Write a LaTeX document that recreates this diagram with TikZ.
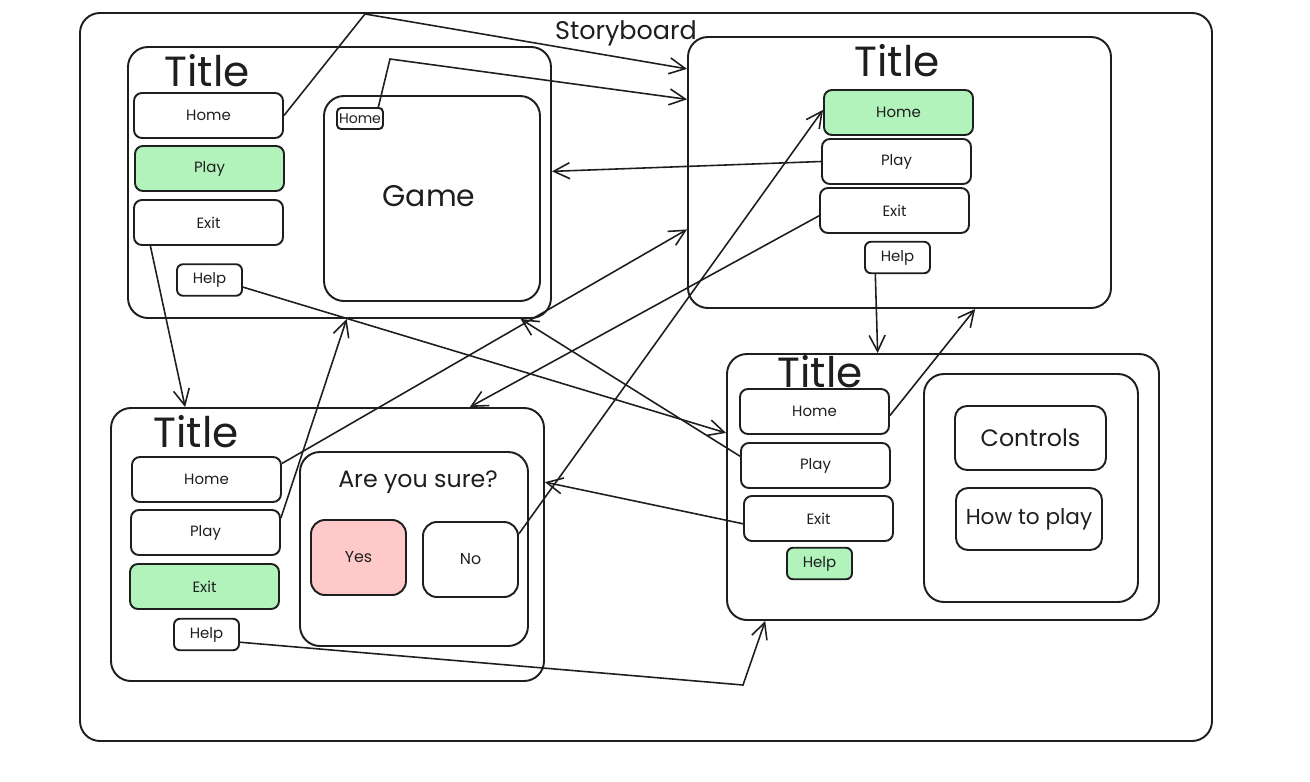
\documentclass[tikz,border=0pt]{standalone}
\usepackage{fontspec}
\setmainfont{Poppins}
\usetikzlibrary{arrows.meta}
\definecolor{inkgray}{HTML}{1E1E1E}
\definecolor{mintgreen}{HTML}{B2F2BB}
\definecolor{rosepink}{HTML}{FFC9C9}

\tikzset{
    screen/.style  = {draw=inkgray, line width=1.1pt, rounded corners=0.40cm, inner sep=0pt},
    panel/.style   = {draw=inkgray, line width=1.1pt, rounded corners=0.40cm, inner sep=0pt},
    button/.style  = {draw=inkgray, line width=1.1pt, rounded corners=0.16cm, inner sep=0pt,
                      minimum width=2.98cm, minimum height=0.90cm, font=\fontsize{8.5}{10}\selectfont},
    buttonon/.style= {button, fill=mintgreen},
    helpbtn/.style = {draw=inkgray, line width=1.1pt, rounded corners=0.12cm, inner sep=0pt,
                      minimum width=1.30cm, minimum height=0.63cm, font=\fontsize{8.5}{10}\selectfont},
    choice/.style  = {draw=inkgray, line width=1.1pt, rounded corners=0.28cm, inner sep=0pt,
                      minimum width=1.90cm, minimum height=1.50cm, font=\fontsize{9}{10}\selectfont},
    caption/.style = {text=inkgray, inner sep=0pt, font=\fontsize{24}{26}\selectfont},
    link/.style    = {draw=inkgray, line width=0.9pt, -{Straight Barb[length=0.32cm, width=0.32cm, line width=0.9pt]}}
}

\begin{document}
\begin{tikzpicture}[text=inkgray]
    \useasboundingbox (0.00, 0.00) rectangle (26.20, -15.64);
    % Storyboard frame
    \node[draw=inkgray, line width=1.1pt, rounded corners=0.40cm, minimum width=22.64cm, minimum height=14.56cm]
        (frame) at (12.92, -7.54) {};
    \node[inner sep=0pt, font=\fontsize{14.5}{16}\selectfont] (story) at (12.52, -0.67) {Storyboard};

    % Main menu + game
    \node[screen, minimum width=8.46cm, minimum height=5.42cm] (scrA)  at ( 6.79, -3.65) {};
    \node[caption]                                        (titleA) at ( 4.14, -1.42) {Title};
    \node[button]                                         (homeA)  at ( 4.17, -2.31) {Home};
    \node[buttonon]                                       (playA)  at ( 4.19, -3.37) {Play};
    \node[button]                                         (exitA)  at ( 4.17, -4.45) {Exit};
    \node[helpbtn]                                        (helpA)  at ( 4.19, -5.60) {Help};
    \node[panel, minimum width=4.32cm, minimum height=4.10cm] (game) at ( 8.64, -3.97) {};
    \node[inner sep=0pt, font=\fontsize{17}{20}\selectfont] (gameTxt) at ( 8.58, -3.92) {Game};
    \node[draw=inkgray, line width=1.1pt, rounded corners=0.08cm, inner sep=0pt,
          minimum width=0.92cm, minimum height=0.42cm, font=\fontsize{8}{9}\selectfont]
                                                          (gHome)  at ( 7.20, -2.37) {Home};

    % Home screen
    \node[screen, minimum width=8.46cm, minimum height=5.42cm] (scrB)  at (17.99, -3.45) {};
    \node[caption]                                        (titleB) at (17.94, -1.22) {Title};
    \node[buttonon]                                       (homeB)  at (17.97, -2.25) {Home};
    \node[button]                                         (playB)  at (17.93, -3.23) {Play};
    \node[button]                                         (exitB)  at (17.89, -4.21) {Exit};
    \node[helpbtn]                                        (helpB)  at (17.95, -5.15) {Help};

    % Exit dialog
    \node[screen, minimum width=8.66cm, minimum height=5.46cm] (scrC)  at ( 6.55,-10.89) {};
    \node[caption]                                        (titleC) at ( 3.92, -8.64) {Title};
    \node[button]                                         (homeC)  at ( 4.13, -9.59) {Home};
    \node[button]                                         (playC)  at ( 4.11,-10.65) {Play};
    \node[buttonon]                                       (exitC)  at ( 4.09,-11.73) {Exit};
    \node[helpbtn]                                        (helpC)  at ( 4.13,-12.69) {Help};
    \node[panel, minimum width=4.56cm, minimum height=3.88cm] (dialog) at ( 8.28,-10.98) {};
    \node[inner sep=0pt, font=\fontsize{13.5}{15}\selectfont] (sure) at ( 8.36, -9.64) {Are you sure?};
    \node[choice, fill=rosepink]                          (yes)    at ( 7.17,-11.15) {Yes};
    \node[choice]                                         (no)     at ( 9.41,-11.19) {No};

    % Help screen
    \node[screen, minimum width=8.64cm, minimum height=5.32cm] (scrD)  at (18.86, -9.74) {};
    \node[caption]                                        (titleD) at (16.40, -7.44) {Title};
    \node[button]                                         (homeD)  at (16.29, -8.23) {Home};
    \node[button]                                         (playD)  at (16.31, -9.31) {Play};
    \node[button]                                         (exitD)  at (16.37,-10.37) {Exit};
    \node[helpbtn, fill=mintgreen]                        (helpD)  at (16.39,-11.27) {Help};
    \node[panel, minimum width=4.28cm, minimum height=4.56cm] (info) at (20.62, -9.76) {};
    \node[choice, rounded corners=0.24cm, minimum width=3.02cm, minimum height=1.28cm,
          font=\fontsize{13.5}{15}\selectfont]            (controls) at (20.61, -8.76) {Controls};
    \node[choice, rounded corners=0.24cm, minimum width=2.92cm, minimum height=1.24cm,
          font=\fontsize{12.3}{14}\selectfont]            (howto)  at (20.58,-10.38) {How to play};

    % Bends
    \coordinate (bendHome) at ( 7.30, -0.28);
    \coordinate (bendGame) at ( 7.80, -1.18);
    \coordinate (bendHelp) at (14.86,-13.70);

    % Links
    \draw[link] (homeA.east) -- (bendHome) -- (scrB.154);
    \draw[link] (gHome.32)   -- (bendGame) -- (scrB.161);
    \draw[link] (playB.west) -- (scrA.3);
    \draw[link] (exitA.202)  -- (scrC.136);
    \draw[link] (helpA.-12)  -- (scrD.166);
    \draw[link] (homeC.12)   -- (scrB.195);
    \draw[link] (playC.11)   -- (scrA.-87);
    \draw[link] (exitB.184)  -- (scrC.44);
    \draw[link] (no.28)      -- (homeB.178);
    \draw[link] (helpB.217)  -- (scrD.116);
    \draw[link] (homeD.-3)   -- (scrB.-61);
    \draw[link] (exitD.184)  -- (scrC.16);
    \draw[link] (helpC.-13)  -- (bendHelp) -- (scrD.217);
    \draw[link] (playD.173)  -- (scrA.-37);
\end{tikzpicture}
\end{document}
